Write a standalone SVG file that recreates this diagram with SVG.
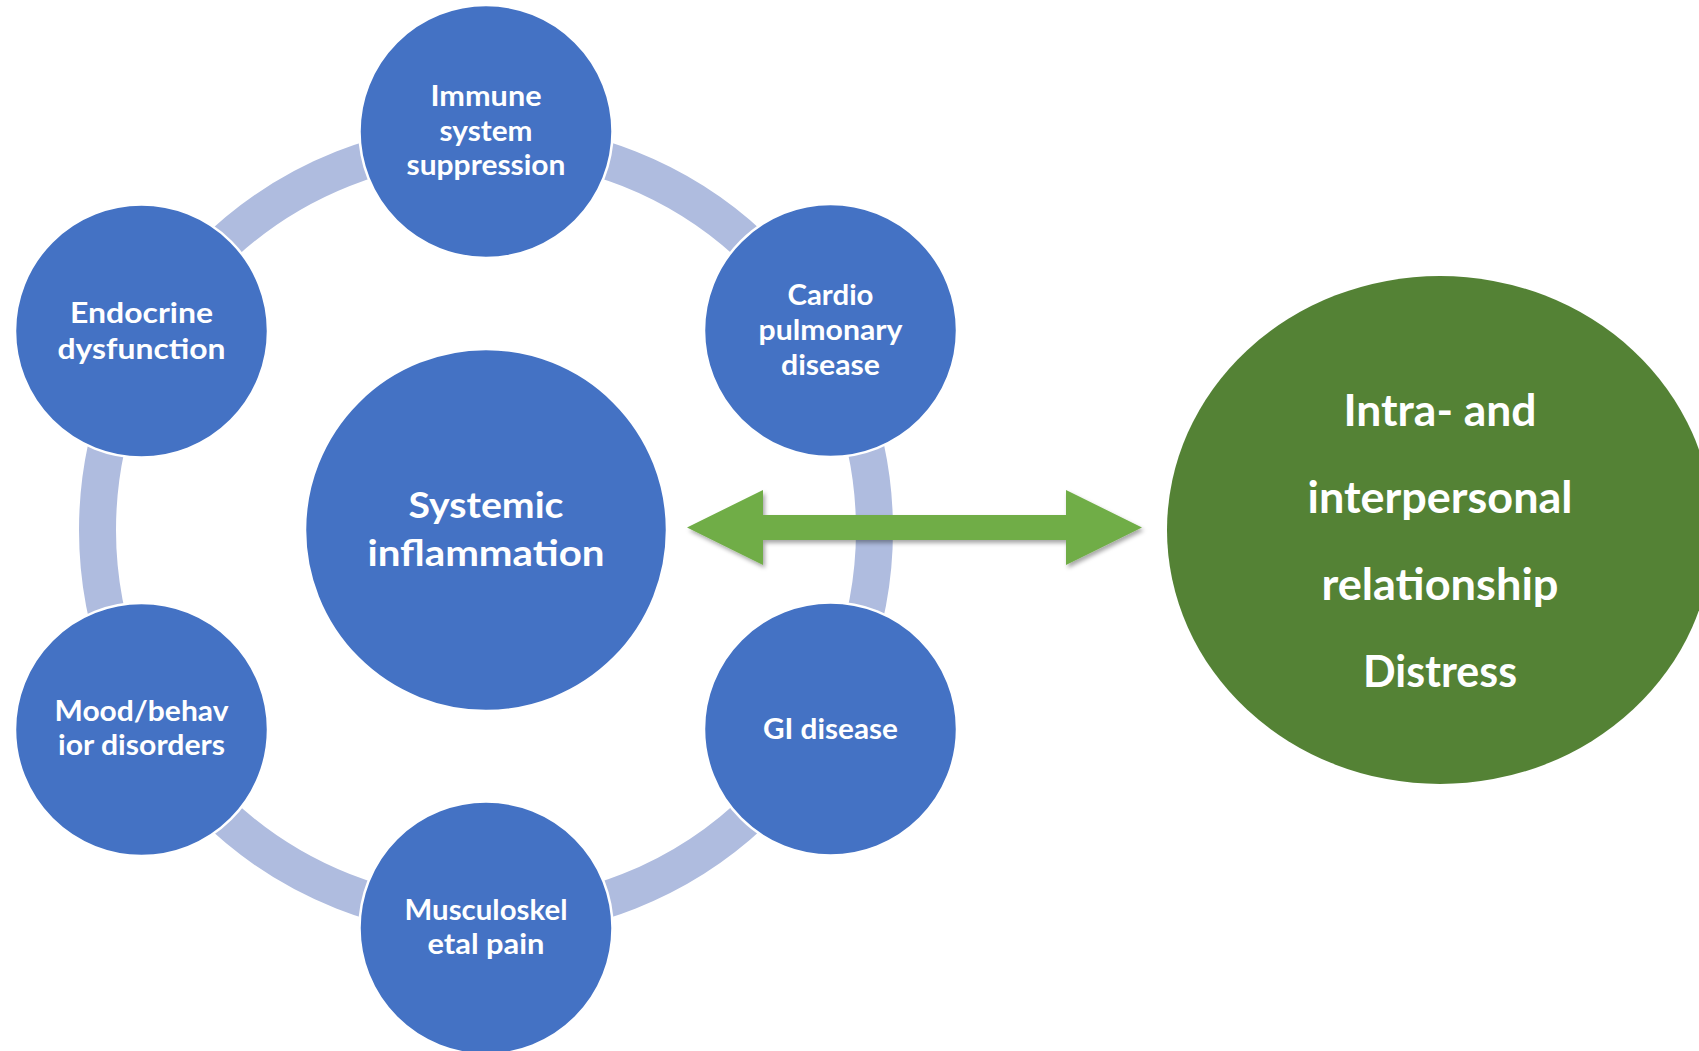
<svg xmlns="http://www.w3.org/2000/svg" width="1699" height="1051" viewBox="0 0 1699 1051">
  <defs>
    <style>
      .bubble { fill: #4472C4; stroke: #FFFFFF; stroke-width: 2.5; }
      .ring { fill: none; stroke: #AFBCDF; stroke-width: 37; }
      .lbl { font-family: Lato, "Open Sans", "Liberation Sans", sans-serif; font-weight: 700; fill: #FFFFFF; text-anchor: middle; }
      .sm { font-size: 28px; }
      .md { font-size: 36px; }
      .lg { font-size: 44px; }
    </style>
    <filter id="softShadow" x="-5%" y="-30%" width="110%" height="170%">
      <feDropShadow dx="2" dy="3" stdDeviation="2.2" flood-color="#000000" flood-opacity="0.35"/>
    </filter>
  </defs>

  <rect width="1699" height="1051" fill="#FFFFFF"/>

  <!-- connecting ring and double-headed arrow -->
  <g id="connectors">
    <circle class="ring" cx="486" cy="530" r="388.5"/>
    <polygon id="double-arrow" fill="#70AD47" filter="url(#softShadow)"
      points="687,527.5 763,490 763,515 1066,515 1066,490 1142,527.5 1066,565 1066,540 763,540 763,565"/>
  </g>

  <g id="node-immune">
    <circle class="bubble" cx="486" cy="131.5" r="126.5"/>
    <text class="lbl sm" x="486" y="106" textLength="111" lengthAdjust="spacingAndGlyphs">Immune</text>
    <text class="lbl sm" x="486" y="140.5" textLength="93" lengthAdjust="spacingAndGlyphs">system</text>
    <text class="lbl sm" x="486" y="175" textLength="159" lengthAdjust="spacingAndGlyphs">suppression</text>
  </g>

  <g id="node-cardio">
    <circle class="bubble" cx="830.5" cy="330.5" r="126.5"/>
    <text class="lbl sm" x="830.5" y="305" textLength="86" lengthAdjust="spacingAndGlyphs">Cardio</text>
    <text class="lbl sm" x="830.5" y="340" textLength="144" lengthAdjust="spacingAndGlyphs">pulmonary</text>
    <text class="lbl sm" x="830.5" y="374.5" textLength="99" lengthAdjust="spacingAndGlyphs">disease</text>
  </g>

  <g id="node-gi">
    <circle class="bubble" cx="830.5" cy="729" r="126.5"/>
    <text class="lbl sm" x="830.5" y="739" textLength="135" lengthAdjust="spacingAndGlyphs">GI disease</text>
  </g>

  <g id="node-musculoskeletal">
    <circle class="bubble" cx="486" cy="928" r="126.5"/>
    <text class="lbl sm" x="486" y="920" textLength="163" lengthAdjust="spacingAndGlyphs">Musculoskel</text>
    <text class="lbl sm" x="486" y="954" textLength="117" lengthAdjust="spacingAndGlyphs">etal pain</text>
  </g>

  <g id="node-mood">
    <circle class="bubble" cx="141.5" cy="729.5" r="126.5"/>
    <text class="lbl sm" x="141.5" y="720.5" textLength="174" lengthAdjust="spacingAndGlyphs">Mood/behav</text>
    <text class="lbl sm" x="141.5" y="755" textLength="167" lengthAdjust="spacingAndGlyphs">ior disorders</text>
  </g>

  <g id="node-endocrine">
    <circle class="bubble" cx="141.5" cy="331" r="126.5"/>
    <text class="lbl sm" x="141.5" y="322.5" textLength="143" lengthAdjust="spacingAndGlyphs">Endocrine</text>
    <text class="lbl sm" x="141.5" y="358.5" textLength="168" lengthAdjust="spacingAndGlyphs">dysfunction</text>
  </g>

  <g id="node-systemic">
    <circle class="bubble" cx="486" cy="530" r="181"/>
    <text class="lbl md" x="486" y="518" textLength="155" lengthAdjust="spacingAndGlyphs">Systemic</text>
    <text class="lbl md" x="486" y="566" textLength="237" lengthAdjust="spacingAndGlyphs">inflammation</text>
  </g>

  <g id="node-distress">
    <ellipse cx="1440" cy="530" rx="273" ry="254" fill="#548235"/>
    <text class="lbl lg" x="1440" y="426" textLength="193" lengthAdjust="spacingAndGlyphs">Intra- and</text>
    <text class="lbl lg" x="1440" y="513" textLength="265" lengthAdjust="spacingAndGlyphs">interpersonal</text>
    <text class="lbl lg" x="1440" y="600" textLength="237" lengthAdjust="spacingAndGlyphs">relationship</text>
    <text class="lbl lg" x="1440" y="687" textLength="154" lengthAdjust="spacingAndGlyphs">Distress</text>
  </g>
</svg>
